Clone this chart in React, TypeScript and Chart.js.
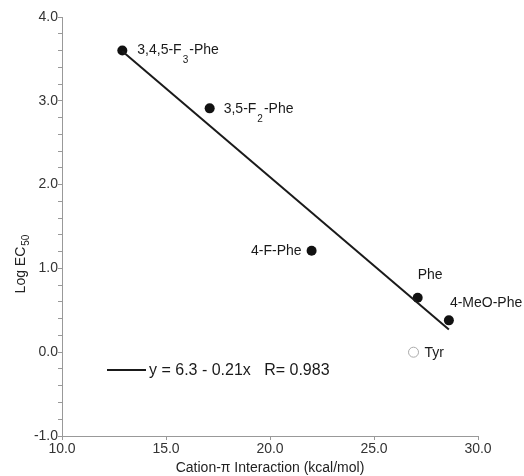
import React, { useEffect, useRef } from "react";
import { Chart, registerables } from "chart.js";

Chart.register(...registerables);

// Data
const residueMain = ["3,4,5-F", "3,5-F", "4-F-Phe", "Phe", "4-MeO-Phe"];
const residueSub = ["3", "2", "", "", ""];
const residueTail = ["-Phe", "-Phe", "", "", ""];
const cationPi = [12.9, 17.1, 22.0, 27.1, 28.6];
const logEC50 = [3.6, 2.91, 1.21, 0.65, 0.38];

const tyrLabel = "Tyr";
const tyrCationPi = [26.9];
const tyrLogEC50 = [0.0];

const fitX = [12.9, 28.6];
const fitY = [3.59, 0.27];
const fitText = "y = 6.3 - 0.21x   R= 0.983";

const xTitle = "Cation-\u03c0 Interaction (kcal/mol)";
const yTitleMain = "Log EC";
const yTitleSub = "50";

// label placement (style, not data): [dx, dy, align]
const labelPlacement: [number, number, CanvasTextAlign][] = [
  [15, 0, "left"],
  [14, 1, "left"],
  [-10, 0, "right"],
  [0, -23, "left"],
  [1, -17, "left"],
];

const FONT = "'Liberation Sans', Arial, sans-serif";

const textPlugin = {
  id: "texts",
  afterDraw(chart: any) {
    const ctx = chart.ctx as CanvasRenderingContext2D;
    const xs = chart.scales.x;
    const ys = chart.scales.y;
    const area = chart.chartArea;
    ctx.save();
    ctx.fillStyle = "#1a1a1a";
    ctx.textBaseline = "middle";
    // point labels
    residueMain.forEach((m, i) => {
      const px = xs.getPixelForValue(cationPi[i]);
      const py = ys.getPixelForValue(logEC50[i]);
      const [dx, dy, align] = labelPlacement[i];
      ctx.font = `14px ${FONT}`;
      const wMain = ctx.measureText(m).width;
      ctx.font = `10px ${FONT}`;
      const wSub = residueSub[i] ? ctx.measureText(residueSub[i]).width + 2 : 0;
      ctx.font = `14px ${FONT}`;
      const wTail = ctx.measureText(residueTail[i]).width;
      const total = wMain + wSub + wTail;
      let x0 = px + dx;
      if (align === "right") x0 = px + dx - total;
      const y0 = py + dy;
      ctx.textAlign = "left";
      ctx.font = `14px ${FONT}`;
      ctx.fillText(m, x0, y0);
      if (residueSub[i]) {
        ctx.font = `10px ${FONT}`;
        ctx.fillText(residueSub[i], x0 + wMain + 1, y0 + 10);
      }
      ctx.font = `14px ${FONT}`;
      ctx.fillText(residueTail[i], x0 + wMain + wSub, y0);
    });
    // Tyr label
    {
      const px = xs.getPixelForValue(tyrCationPi[0]);
      const py = ys.getPixelForValue(tyrLogEC50[0]);
      ctx.font = `14px ${FONT}`;
      ctx.textAlign = "left";
      ctx.fillText(tyrLabel, px + 11, py + 1);
    }
    // legend
    ctx.strokeStyle = "#1a1a1a";
    ctx.lineWidth = 2;
    ctx.beginPath();
    ctx.moveTo(107, 370);
    ctx.lineTo(146, 370);
    ctx.stroke();
    ctx.font = `16px ${FONT}`;
    ctx.textAlign = "left";
    ctx.fillText(fitText, 149, 371);
    // x title
    ctx.font = `14px ${FONT}`;
    ctx.textAlign = "center";
    ctx.fillStyle = "#222";
    ctx.fillText(xTitle, (area.left + area.right) / 2, 468);
    // y title rotated
    ctx.translate(21, 264);
    ctx.rotate(-Math.PI / 2);
    ctx.font = `14px ${FONT}`;
    const wm = ctx.measureText(yTitleMain).width;
    ctx.font = `10px ${FONT}`;
    const ws = ctx.measureText(yTitleSub).width;
    const tw = wm + ws + 1;
    ctx.textAlign = "left";
    ctx.font = `14px ${FONT}`;
    ctx.fillText(yTitleMain, -tw / 2, 0);
    ctx.font = `10px ${FONT}`;
    ctx.fillText(yTitleSub, -tw / 2 + wm + 1, 5);
    ctx.restore();
  },
};

export default function App() {
  const ref = useRef<HTMLCanvasElement | null>(null);
  useEffect(() => {
    document.body.style.margin = "0";
    const canvas = ref.current!;
    const chart = new Chart(canvas, {
      type: "scatter",
      data: {
        datasets: [
          {
            type: "line",
            data: fitX.map((x, i) => ({ x, y: fitY[i] })),
            borderColor: "#1a1a1a",
            borderWidth: 2,
            pointRadius: 0,
            fill: false,
          } as any,
          {
            data: cationPi.map((x, i) => ({ x, y: logEC50[i] })),
            backgroundColor: "#111",
            borderColor: "#111",
            pointRadius: 5,
            borderWidth: 0,
          },
          {
            data: tyrCationPi.map((x, i) => ({ x, y: tyrLogEC50[i] })),
            backgroundColor: "#fff",
            borderColor: "#aaa",
            pointRadius: 5,
            borderWidth: 1,
          },
        ],
      },
      plugins: [textPlugin],
      options: {
        animation: false,
        responsive: false,
        layout: { padding: { top: 17, right: 46, left: 0, bottom: 0 } },
        plugins: { legend: { display: false }, tooltip: { enabled: false } },
        scales: {
          x: {
            type: "linear",
            min: 10,
            max: 30,
            afterFit: (s: any) => {
              s.height = 40;
            },
            border: { color: "#999", width: 1 },
            grid: { drawOnChartArea: false, drawTicks: true, tickLength: 4, color: "#999" },
            ticks: {
              stepSize: 5,
              autoSkip: false,
              maxRotation: 0,
              padding: 1,
              color: "#333",
              font: { family: FONT, size: 14 },
              callback: (v: any) => Number(v).toFixed(1),
            },
          },
          y: {
            type: "linear",
            min: -1,
            max: 4,
            afterFit: (s: any) => {
              s.width = 62;
            },
            border: { color: "#999", width: 1 },
            grid: {
              drawOnChartArea: false,
              drawTicks: true,
              tickLength: 4,
              color: "#999",
            },
            ticks: {
              stepSize: 0.2,
              autoSkip: false,
              padding: 0,
              color: "#333",
              font: { family: FONT, size: 14 },
              callback: (v: any) => {
                const n = Number(v);
                return Math.abs(n - Math.round(n)) < 1e-6 ? n.toFixed(1) : "";
              },
            },
          },
        },
      },
    });
    return () => chart.destroy();
  }, []);
  return <canvas ref={ref} width={524} height={476} style={{ display: "block" }} />;
}
